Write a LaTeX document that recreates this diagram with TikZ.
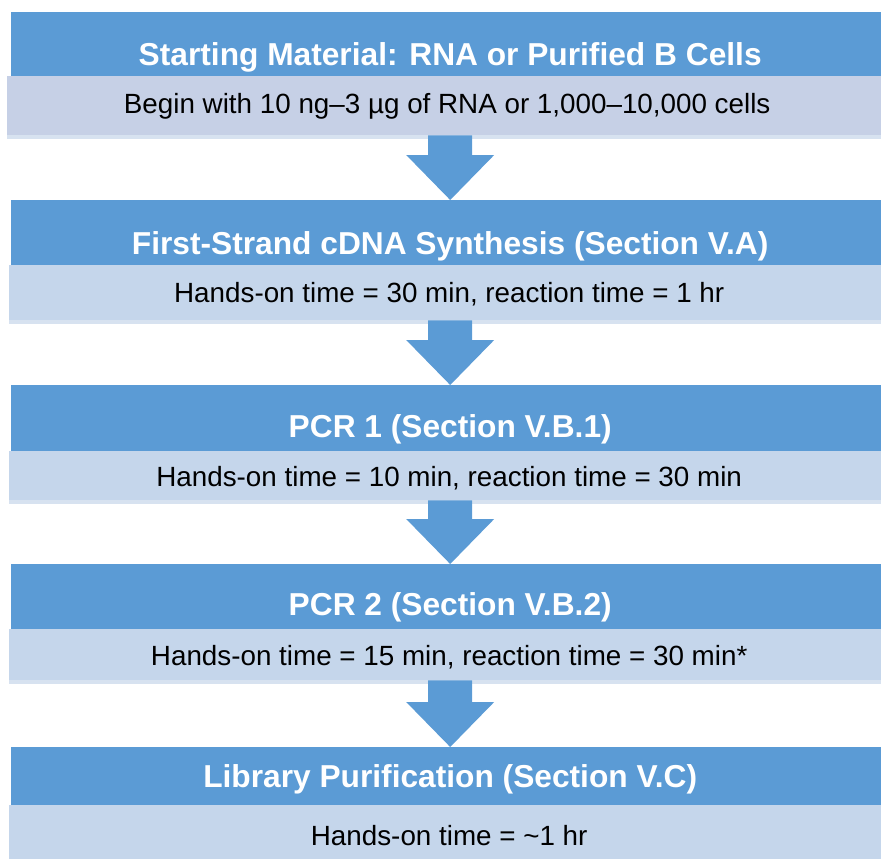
\documentclass[tikz,border=0pt]{standalone}
\usepackage{fontspec}
\setmainfont{Liberation Sans}
\usetikzlibrary{positioning,calc,shadows}

\definecolor{headblue}{HTML}{5B9BD5}
\definecolor{bodyblue}{HTML}{C5D6EB}
\definecolor{bodylilac}{HTML}{C6D0E6}
\definecolor{bodyshade}{HTML}{D7E2F0}

\begin{document}
\begin{tikzpicture}[x=1pt, y=-1pt,
  every node/.style={inner sep=0pt, text depth=0pt, anchor=north west},
  head/.style={fill=headblue, text=white, minimum width=878pt, font=\bfseries\fontsize{31.7}{34}\selectfont},
  body/.style={fill=bodyblue, minimum width=880pt, font=\fontsize{27.8}{30}\selectfont,
    drop shadow={shadow xshift=0pt, shadow yshift=-4pt, fill=bodyshade, opacity=1}},
  stepflow/.style={fill=headblue}
]
\useasboundingbox (0,0) rectangle (881,859);
% Starting material
\node[head, minimum height=64pt, text height=42pt] (h1) at (11,12) {Starting Material: RNA or Purified B Cells};
\node[body, fill=bodylilac, minimum height=59pt, text height=15pt] (s1) at (7,76) {Begin with 10 ng–3 µg of RNA or 1,000–10,000 cells};
% First strand
\node[head, minimum height=65pt, text height=43pt] (h2) at (11,200) {First-Strand cDNA Synthesis (Section V.A)};
\node[body, minimum height=55pt, text height=19pt] (s2) at (9,265) {Hands-on time = 30 min, reaction time = 1 hr};
% PCR 1
\node[head, minimum height=66pt, text height=39pt] (h3) at (11,385) {PCR 1 (Section V.B.1)};
\node[body, minimum height=49pt, text height=21pt] (s3) at (9,451) {Hands-on time = 10 min, reaction time = 30 min};
% PCR 2
\node[head, minimum height=65pt, text height=37pt] (h4) at (11,564) {PCR 2 (Section V.B.2)};
\node[body, minimum height=51pt, text height=21pt] (s4) at (9,629) {Hands-on time = 15 min, reaction time = 30 min*};
% Purification
\node[head, minimum height=58pt, text height=22pt] (h5) at (11,747) {Library Purification (Section V.C)};
\node[body, minimum height=64pt, text height=16pt] (s5) at (9,805) {Hands-on time = \textasciitilde1 hr};
% Block arrows between steps
\foreach \a/\b in {s1/h2, s2/h3, s3/h4, s4/h5}
  \fill[stepflow] ($(\a.south -| \b.north)+(-22,0)$) -- ($(\a.south -| \b.north)+(22,0)$)
    -- ($(\b.north)+(22,-45)$) -- ($(\b.north)+(44,-45)$) -- (\b.north)
    -- ($(\b.north)+(-44,-45)$) -- ($(\b.north)+(-22,-45)$) -- cycle;
\end{tikzpicture}
\end{document}
